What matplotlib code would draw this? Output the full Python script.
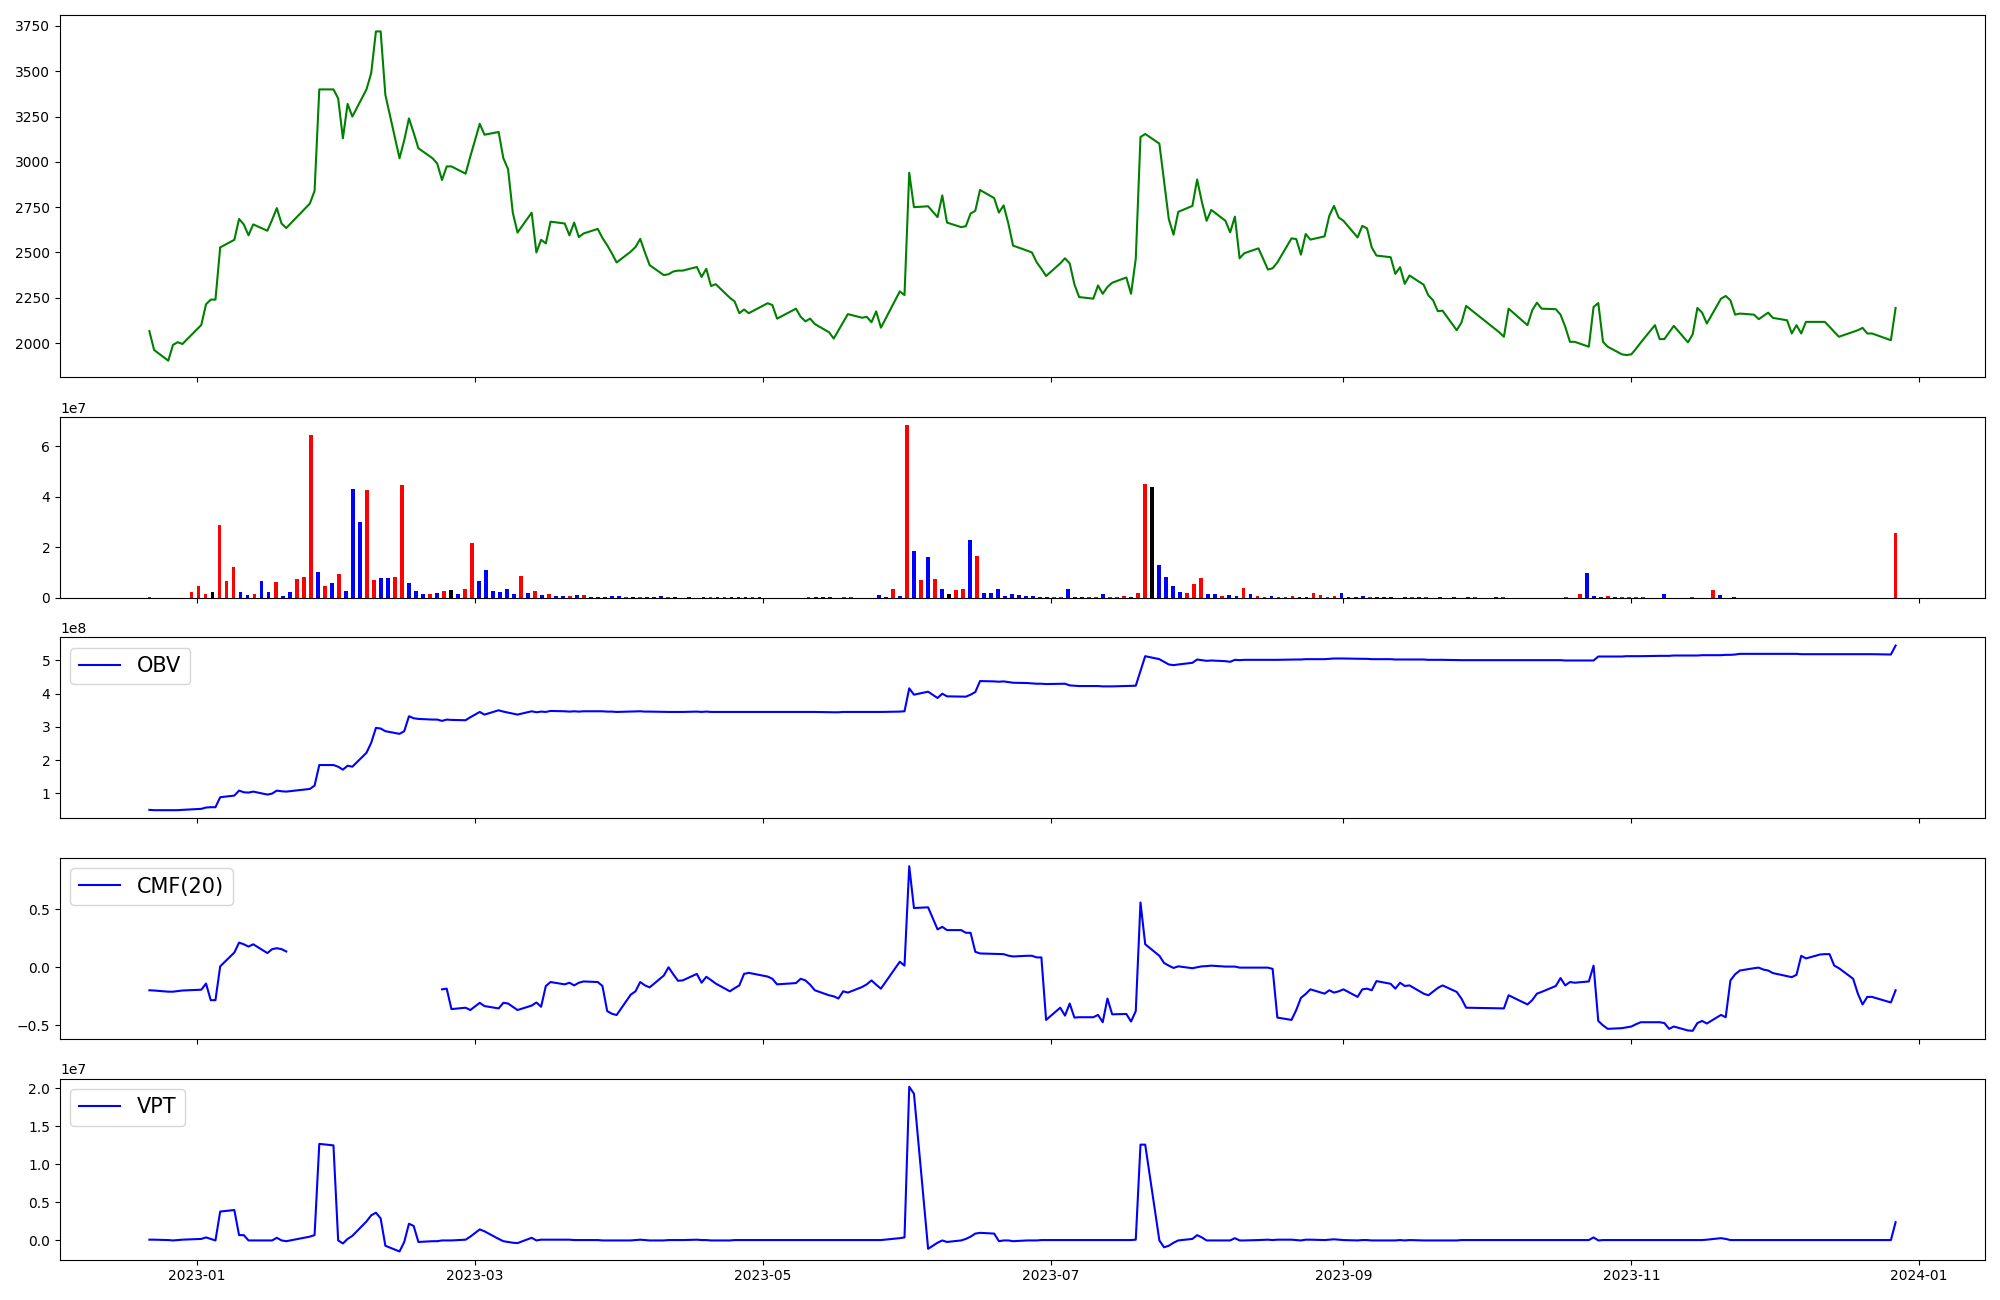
import numpy as np
import pandas as pd
import matplotlib
matplotlib.use("Agg")
import matplotlib.pyplot as plt

# Trading days (KRX calendar), 2022-12-22 .. 2023-12-27
krx_holidays = ["2022-12-30", "2023-01-23", "2023-01-24", "2023-03-01", "2023-05-01",
                "2023-05-05", "2023-05-29", "2023-06-06", "2023-08-15", "2023-09-28",
                "2023-09-29", "2023-10-02", "2023-10-03", "2023-10-09", "2023-12-25"]
dates = pd.bdate_range("2022-12-22", "2023-12-27", freq="C", holidays=krx_holidays)

# Close price, month by month
close = (
    [2066, 1962, 1903, 1990, 2005, 1995] +
    [2100, 2214, 2240, 2240, 2528, 2570, 2685, 2655, 2595, 2655, 2620, 2680, 2745, 2660, 2635, 2770, 2840, 3400, 3400, 3350] +
    [3130, 3320, 3250, 3400, 3490, 3720, 3720, 3370, 3020, 3120, 3240, 3160, 3075, 3020, 2990, 2900, 2975, 2975, 2935, 3030] +
    [3210, 3150, 3165, 3020, 2960, 2720, 2610, 2720, 2500, 2570, 2550, 2670, 2660, 2595, 2665, 2585, 2605, 2630, 2580, 2540, 2495, 2445] +
    [2505, 2530, 2575, 2500, 2430, 2375, 2380, 2395, 2400, 2400, 2420, 2365, 2410, 2315, 2325, 2250, 2230, 2165, 2185, 2165] +
    [2220, 2210, 2135, 2190, 2145, 2120, 2135, 2105, 2060, 2025, 2070, 2115, 2160, 2140, 2145, 2115, 2175, 2085, 2285, 2265] +
    [2940, 2750, 2755, 2695, 2815, 2665, 2640, 2645, 2715, 2730, 2845, 2800, 2720, 2760, 2660, 2538, 2510, 2500, 2446, 2410, 2370] +
    [2440, 2468, 2440, 2324, 2254, 2245, 2318, 2272, 2310, 2333, 2362, 2272, 2465, 3137, 3154, 3101, 2890, 2684, 2598, 2724, 2757] +
    [2903, 2780, 2675, 2735, 2675, 2611, 2698, 2468, 2496, 2523, 2406, 2413, 2445, 2578, 2574, 2488, 2602, 2571, 2589, 2702, 2757, 2693] +
    [2675, 2583, 2647, 2633, 2528, 2483, 2474, 2382, 2419, 2327, 2373, 2322, 2263, 2236, 2176, 2179, 2071, 2113, 2205] +
    [2060, 2035, 2190, 2099, 2181, 2223, 2190, 2187, 2157, 2090, 2007, 2007, 1980, 2199, 2221, 2007, 1980, 1938, 1934] +
    [1938, 1969, 2003, 2099, 2022, 2022, 2058, 2095, 2004, 2048, 2194, 2168, 2108, 2245, 2260, 2236, 2157, 2163, 2157, 2132, 2150, 2168] +
    [2139, 2126, 2053, 2099, 2053, 2117, 2117, 2117, 2090, 2062, 2035, 2062, 2071, 2084, 2053, 2053, 2016, 2194]
)

# Volume in units of 1e7, with bar colour code (r = up candle, b = down, k = unchanged)
volume_e7 = (
    [0.04, 0, 0, 0, 0, 0] +
    [0.24, 0.47, 0.16, 0.24, 2.88, 0.67, 1.22, 0.24, 0.12, 0.16, 0.67, 0.24, 0.63, 0.08, 0.24, 0.75, 0.83, 6.43, 1.03, 0.47] +
    [0.59, 0.95, 0.28, 4.30, 3.00, 4.26, 0.71, 0.79, 0.79, 0.83, 4.46, 0.59, 0.28, 0.16, 0.16, 0.20, 0.28, 0.32, 0.16, 0.36] +
    [2.17, 0.67, 1.11, 0.28, 0.24, 0.36, 0.16, 0.87, 0.20, 0.28, 0.12, 0.16, 0.08, 0.08, 0.08, 0.12, 0.12, 0.04, 0.04, 0.04, 0.08, 0.08] +
    [0.04, 0.04, 0.04, 0.04, 0.04, 0.08, 0.04, 0.04, 0, 0.04, 0, 0.04, 0.04, 0.04, 0.04, 0.04, 0.04, 0.04, 0.04, 0.04] +
    [0, 0, 0, 0, 0, 0, 0.04, 0.04, 0.04, 0.04, 0, 0.04, 0.04, 0, 0, 0, 0.12, 0.04, 0.36, 0.08] +
    [6.83, 1.86, 0.71, 1.62, 0.75, 0.36, 0.16, 0.32, 0.36, 2.29, 1.66, 0.20, 0.20, 0.36, 0.08, 0.16, 0.12, 0.08, 0.08, 0.04, 0.04] +
    [0.04, 0.04, 0.36, 0.04, 0.04, 0.04, 0.04, 0.16, 0.04, 0.04, 0.08, 0.04, 0.20, 4.50, 4.38, 1.30, 0.83, 0.47, 0.24, 0.20, 0.55] +
    [0.79, 0.16, 0.16, 0.08, 0.12, 0.08, 0.39, 0.16, 0.08, 0.04, 0.08, 0.04, 0.04, 0.08, 0.04, 0.04, 0.20, 0.12, 0.04, 0.08, 0.20, 0.04] +
    [0.04, 0.08, 0.04, 0.04, 0.04, 0.04, 0, 0.04, 0.04, 0.04, 0.04, 0, 0.04, 0, 0.04, 0, 0.04, 0.04, 0] +
    [0, 0.04, 0.04, 0, 0, 0, 0, 0, 0, 0, 0, 0.04, 0, 0.16, 0.99, 0.08, 0.04, 0.08, 0.04] +
    [0.04, 0.04, 0.04, 0.04, 0, 0, 0.16, 0, 0, 0, 0.04, 0, 0, 0.32, 0.12, 0, 0.04, 0, 0, 0, 0, 0] +
    [0, 0, 0, 0, 0, 0, 0, 0, 0, 0, 0, 0, 0, 0, 0, 0, 0, 2.57]
)
volume_dir = ("rrrrrr"
              "rrrkrrrbbrbbrbbrrrbr"
              "brbbbrrbbrrbbbrbrkbr"
              "rbbbbbbrbrbrbbrbrbbbbb"
              "rkrbbbrkrbrbrbrbbbrb"
              "rrrrrrrbbbrrrrrrbbrb"
              "rbrbrbkrrbrbbbbbbbbbb"
              "rrbbbrrbrrrbrrkbbbbrr"
              "rbbrbbrbrrbrrrbbrrrrbb"
              "bbrbbbrbrbrrbrbrbrr"
              "rbrrrrrrrrrrrrbbbrb"
              "rrrrrrbrrrrrrrbrbrrrrr"
              "rrrrrrrrrrrrrrrrrr")

# On-balance volume, units of 1e8
obv_e8 = (
    [0.50, 0.49, 0.49, 0.49, 0.49, 0.50] +
    [0.53, 0.57, 0.58, 0.58, 0.88, 0.93, 1.08, 1.03, 1.02, 1.05, 0.96, 0.99, 1.08, 1.06, 1.05, 1.13, 1.23, 1.85, 1.85, 1.80] +
    [1.71, 1.83, 1.80, 2.22, 2.52, 2.97, 2.95, 2.87, 2.79, 2.87, 3.32, 3.26, 3.24, 3.22, 3.22, 3.18, 3.22, 3.21, 3.20, 3.29] +
    [3.45, 3.37, 3.50, 3.46, 3.43, 3.40, 3.37, 3.47, 3.44, 3.46, 3.45, 3.48, 3.47, 3.46, 3.47, 3.46, 3.47, 3.47, 3.47, 3.46, 3.46, 3.45] +
    [3.46, 3.46, 3.47, 3.46, 3.46, 3.45, 3.45, 3.45, 3.45, 3.45, 3.46, 3.45, 3.46, 3.45, 3.45, 3.45, 3.45, 3.45, 3.45, 3.45] +
    [3.45, 3.45, 3.45, 3.45, 3.45, 3.45, 3.45, 3.45, 3.44, 3.44, 3.44, 3.45, 3.45, 3.45, 3.45, 3.45, 3.45, 3.45, 3.46, 3.47] +
    [4.16, 3.97, 4.06, 3.87, 4.00, 3.92, 3.91, 3.91, 3.97, 4.05, 4.38, 4.37, 4.36, 4.37, 4.35, 4.33, 4.32, 4.31, 4.30, 4.30, 4.29] +
    [4.30, 4.30, 4.25, 4.24, 4.23, 4.23, 4.23, 4.22, 4.22, 4.22, 4.23, 4.23, 4.24, 4.69, 5.13, 5.04, 4.96, 4.88, 4.86, 4.88, 4.93] +
    [5.03, 5.01, 4.99, 5.00, 4.98, 4.96, 5.02, 5.01, 5.02, 5.02, 5.02, 5.02, 5.02, 5.03, 5.03, 5.03, 5.04, 5.04, 5.04, 5.05, 5.06, 5.06] +
    [5.06, 5.05, 5.05, 5.05, 5.04, 5.04, 5.04, 5.03, 5.03, 5.03, 5.03, 5.03, 5.02, 5.02, 5.02, 5.02, 5.01, 5.01, 5.01] +
    [5.01, 5.01, 5.01, 5.01, 5.01, 5.01, 5.01, 5.01, 5.01, 5.00, 5.00, 5.00, 5.00, 5.00, 5.12, 5.12, 5.12, 5.12, 5.13] +
    [5.13, 5.13, 5.13, 5.14, 5.14, 5.14, 5.14, 5.15, 5.15, 5.15, 5.15, 5.16, 5.16, 5.16, 5.17, 5.17, 5.18, 5.20, 5.20, 5.20, 5.20, 5.20] +
    [5.20, 5.20, 5.20, 5.20, 5.19, 5.19, 5.19, 5.19, 5.19, 5.19, 5.19, 5.19, 5.19, 5.19, 5.19, 5.19, 5.18, 5.45]
)

# Chaikin money flow (20); nan where the source has no value
nan = np.nan
cmf20 = (
    [-0.198, -0.20, -0.21, -0.21, -0.205, -0.20] +
    [-0.193, -0.14, -0.283, -0.283, 0.008, 0.127, 0.212, 0.198, 0.178, 0.198, 0.122, 0.156, 0.164, 0.156, 0.136,
     nan, nan, nan, nan, nan] +
    [nan] * 15 + [-0.19, -0.184, -0.36, -0.348, -0.368] +
    [-0.306, -0.334, -0.354, -0.306, -0.312, -0.34, -0.368, -0.33, -0.303, -0.34, -0.161, -0.127, -0.147, -0.133, -0.156, -0.133, -0.122, -0.127, -0.161, -0.377, -0.40, -0.411] +
    [-0.235, -0.207, -0.127, -0.156, -0.173, -0.071, 0.0, -0.06, -0.116, -0.113, -0.057, -0.133, -0.082, -0.11, -0.14, -0.207, -0.18, -0.156, -0.057, -0.048] +
    [-0.08, -0.099, -0.147, -0.136, -0.099, -0.113, -0.15, -0.198, -0.241, -0.25, -0.269, -0.207, -0.218, -0.17, -0.147, -0.113, -0.15, -0.184, 0.048, 0.014] +
    [0.870, 0.51, 0.516, 0.326, 0.348, 0.32, 0.32, 0.297, 0.297, 0.133, 0.119, 0.115, 0.113, 0.113, 0.10, 0.093, 0.099, 0.099, 0.085, 0.085, -0.453] +
    [-0.348, -0.416, -0.312, -0.433, -0.43, -0.43, -0.41, -0.473, -0.269, -0.405, -0.402, -0.467, -0.377, 0.558, 0.198, 0.099, 0.037, 0.014, -0.006, 0.008, -0.008] +
    [0.0, 0.008, 0.01, 0.014, 0.006, 0.006, 0.006, -0.003, -0.003, -0.003, -0.003, -0.014, -0.433, -0.453, -0.368, -0.263, -0.23, -0.19, -0.227, -0.198, -0.218, -0.207] +
    [-0.19, -0.255, -0.19, -0.184, -0.198, -0.119, -0.142, -0.184, -0.133, -0.161, -0.156, -0.227, -0.241, -0.21, -0.178, -0.156, -0.212, -0.269, -0.348] +
    [-0.354, -0.354, -0.241, -0.32, -0.283, -0.227, -0.212, -0.161, -0.093, -0.156, -0.127, -0.133, -0.122, 0.014, -0.462, -0.50, -0.53, -0.524, -0.517] +
    [-0.51, -0.49, -0.473, -0.473, -0.473, -0.48, -0.53, -0.51, -0.544, -0.547, -0.48, -0.462, -0.484, -0.41, -0.43, -0.113, -0.06, -0.028, -0.008, -0.003, -0.02, -0.028] +
    [-0.05, -0.076, -0.085, -0.065, 0.099, 0.076, 0.11, 0.113, 0.113, 0.014, -0.008, -0.099, -0.227, -0.32, -0.255, -0.255, -0.303, -0.198]
)

# Volume price trend, units of 1e7
vpt_e7 = (
    [0.01, 0.01, 0.005, 0.0, 0.005, 0.01] +
    [0.02, 0.04, 0.02, 0.0, 0.38, 0.40, 0.07, 0.07, 0.0, 0.0, 0.0, 0.0, 0.035, 0.0, -0.01, 0.05, 0.07, 1.27, 1.25, 0.0] +
    [-0.04, 0.02, 0.06, 0.25, 0.33, 0.365, 0.29, -0.07, -0.145, -0.02, 0.22, 0.19, -0.02, -0.01, -0.01, 0.0, 0.0, 0.0, 0.01, 0.05] +
    [0.145, 0.12, 0.02, -0.01, -0.02, -0.03, -0.035, 0.035, 0.0, 0.01, 0.01, 0.01, 0.01, 0.01, 0.005, 0.005, 0.005, 0.005, 0.0, 0.0, 0.0, 0.0] +
    [0.0, 0.005, 0.01, 0.005, 0.0, 0.0, 0.005, 0.005, 0.005, 0.005, 0.01, 0.005, 0.005, 0.0, 0.0, 0.0, 0.005, 0.005, 0.005, 0.005] +
    [0.005, 0.005, 0.005, 0.005, 0.005, 0.005, 0.005, 0.005, 0.005, 0.005, 0.005, 0.005, 0.005, 0.005, 0.005, 0.005, 0.005, 0.005, 0.03, 0.04] +
    [2.02, 1.93, -0.11, -0.03, 0.0, -0.02, 0.0, 0.02, 0.05, 0.09, 0.10, 0.09, -0.01, 0.0, 0.0, -0.01, 0.0, 0.0, 0.0, 0.005, 0.005] +
    [0.005, 0.005, 0.005, 0.005, 0.005, 0.005, 0.005, 0.005, 0.005, 0.005, 0.005, 0.005, 0.01, 1.26, 1.26, 0.0, -0.09, -0.07, -0.03, 0.0, 0.02] +
    [0.07, 0.04, 0.0, 0.0, 0.0, 0.0, 0.03, 0.0, 0.0, 0.005, 0.01, 0.005, 0.01, 0.01, 0.005, 0.0, 0.01, 0.01, 0.005, 0.01, 0.015, 0.01] +
    [0.005, 0.0, 0.005, 0.005, 0.0, 0.0, 0.0, 0.0, 0.005, 0.0, 0.005, 0.0, 0.0, 0.0, 0.0, 0.0, 0.0, 0.005, 0.005] +
    [0.005, 0.005, 0.005, 0.005, 0.005, 0.005, 0.005, 0.005, 0.005, 0.005, 0.005, 0.005, 0.005, 0.04, 0.0, 0.005, 0.005, 0.005, 0.005] +
    [0.005, 0.005, 0.005, 0.005, 0.005, 0.005, 0.005, 0.005, 0.005, 0.005, 0.005, 0.005, 0.01, 0.03, 0.02, 0.005, 0.005, 0.005, 0.005, 0.005, 0.005, 0.005] +
    [0.005, 0.005, 0.005, 0.005, 0.005, 0.005, 0.005, 0.005, 0.005, 0.005, 0.005, 0.005, 0.005, 0.005, 0.005, 0.005, 0.005, 0.24]
)

color_map = {"r": "red", "b": "blue", "k": "black"}
bar_colors = [color_map[c] for c in volume_dir]

# the volume bars sit on an even grid spanning the same period
bar_x = pd.date_range(dates[0], dates[-1], periods=len(dates))

fig, axes = plt.subplots(5, 1, figsize=(20, 13), sharex=True,
                         gridspec_kw={"height_ratios": [2, 1, 1, 1, 1]})
fig.subplots_adjust(left=0.03, right=0.9925, top=0.9885, bottom=0.031, hspace=0.182)
ax1, ax2, ax3, ax4, ax5 = axes

ax1.plot(dates, close, color="green")

ax2.bar(bar_x, np.array(volume_e7) * 1e7, color=bar_colors)

ax3.plot(dates, np.array(obv_e8) * 1e8, color="blue", label="OBV")
ax3.legend(loc="upper left", fontsize=15)

ax4.plot(dates, cmf20, color="blue", label="CMF(20)")
ax4.legend(loc="upper left", fontsize=15)

ax5.plot(dates, np.array(vpt_e7) * 1e7, color="blue", label="VPT")
ax5.legend(loc="upper left", fontsize=15)

fig.savefig("out.png", dpi=100)
